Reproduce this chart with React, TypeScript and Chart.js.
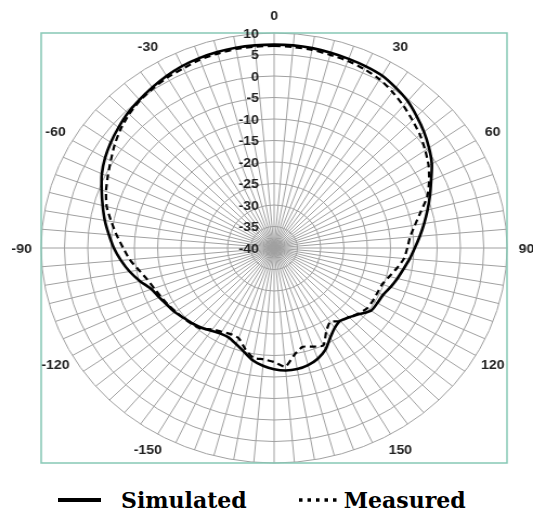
import React, { useEffect, useRef } from "react";
import { Chart, registerables } from "chart.js";

Chart.register(...registerables);

// Categories: azimuth angle in degrees (clockwise from top)
const ANGLES = [
  0, 5, 10, 15, 20, 25, 30, 35, 40, 45, 50, 55,
  60, 65, 70, 75, 80, 85, 90, 95, 100, 105, 110, 115,
  120, 125, 130, 135, 140, 145, 150, 155, 160, 165, 170, 175,
  180, 185, 190, 195, 200, 205, 210, 215, 220, 225, 230, 235,
  240, 245, 250, 255, 260, 265, 270, 275, 280, 285, 290, 295,
  300, 305, 310, 315, 320, 325, 330, 335, 340, 345, 350, 355,
];

// Angle labels shown around the plot
const ANGLE_TICK_LABELS = [0, 30, 60, 90, 120, 150, -150, -120, -90, -60, -30];

// Radial tick labels (dB)
const RADIAL_TICKS = [10, 5, 0, -5, -10, -15, -20, -25, -30, -35, -40];

const SERIES_NAMES = ["Simulated", "Measured"];

// Simulated gain (dB) at each angle in ANGLES
const SIMULATED = [
  7.3, 7.3, 7.2, 7.0, 6.8, 6.6, 6.3, 5.5, 4.6, 3.3, 2.0, 0.6,
  -0.9, -2.8, -4.4, -5.9, -7.3, -8.6, -9.8, -10.8, -11.8, -12.6, -13.4, -14.2,
  -14.4, -14.6, -16.1, -17.2, -17.9, -17.3, -15.9, -13.9, -12.6, -11.8, -11.4, -11.4,
  -11.8, -12.5, -13.5, -15.0, -16.2, -17.0, -17.0, -16.5, -15.8, -15.2, -14.7, -14.0,
  -13.5, -12.8, -12.0, -10.2, -8.5, -7.0, -5.6, -4.4, -3.1, -1.9, -0.6, 0.8,
  1.9, 2.8, 3.6, 4.4, 5.0, 5.6, 6.2, 6.7, 7.0, 7.2, 7.3, 7.3,
];

// Measured gain (dB) at each angle in ANGLES
const MEASURED = [
  7.0, 6.9, 6.8, 6.5, 6.3, 5.9, 5.3, 4.3, 3.2, 2.0, 0.9, -0.4,
  -1.7, -3.3, -5.0, -7.4, -9.3, -10.7, -11.4, -12.0, -13.2, -14.4, -15.3, -15.5,
  -15.5, -15.6, -16.3, -17.3, -17.8, -19.0, -17.6, -15.0, -15.6, -16.2, -14.8, -12.3,
  -13.5, -14.0, -14.1, -15.8, -17.7, -17.9, -17.5, -16.9, -15.5, -15.0, -14.6, -14.2,
  -13.7, -13.2, -12.6, -11.8, -10.5, -8.9, -7.6, -6.1, -4.5, -2.8, -1.6, -0.6,
  0.5, 1.8, 3.0, 4.0, 4.8, 5.3, 5.8, 6.1, 6.6, 6.8, 7.0, 7.0,
];

const CANVAS_W = 492;
const CANVAS_H = 470;
const CSS_W = 533;

const polarDecor = {
  id: "polarDecor",
  beforeDatasetsDraw(chart: any) {
    const scale = chart.scales.r;
    const ctx = chart.ctx;
    const cx = scale.xCenter;
    const cy = scale.yCenter;
    const R = scale.drawingArea;
    ctx.save();
    ctx.strokeStyle = "#86c8b5";
    ctx.lineWidth = 1.5;
    ctx.strokeRect(cx - R, cy - R, 2 * R, 2 * R);
    ctx.restore();
  },
  afterDraw(chart: any) {
    const scale = chart.scales.r;
    const ctx = chart.ctx;
    const cx = scale.xCenter;
    const cy = scale.yCenter;
    const R = scale.drawingArea;
    ctx.save();
    ctx.font = "bold 13px 'Liberation Sans', Arial, sans-serif";
    ctx.fillStyle = "#222222";
    ctx.textAlign = "right";
    ctx.textBaseline = "middle";
    RADIAL_TICKS.forEach((v) => {
      const d = scale.getDistanceFromCenterForValue(v);
      ctx.fillText(String(v), cx - 14, cy - d + 1);
    });
    ctx.textAlign = "center";
    ANGLE_TICK_LABELS.forEach((a) => {
      const idx = ANGLES.indexOf((a + 360) % 360);
      const p = scale.getPointPosition(idx, R + 18);
      ctx.fillText(String(a), p.x, p.y + 1);
    });
    ctx.restore();
  },
};

export default function App() {
  const canvasRef = useRef<HTMLCanvasElement | null>(null);

  useEffect(() => {
    const canvas = canvasRef.current;
    if (!canvas) return;
    const chart = new Chart(canvas, {
      type: "radar",
      data: {
        labels: ANGLES.map(String),
        datasets: [
          {
            label: SERIES_NAMES[0],
            data: SIMULATED,
            borderColor: "#000000",
            backgroundColor: "transparent",
            borderWidth: 2.6,
            pointRadius: 0,
            fill: false,
            tension: 0.25,
          },
          {
            label: SERIES_NAMES[1],
            data: MEASURED,
            borderColor: "#000000",
            backgroundColor: "transparent",
            borderWidth: 2.2,
            borderDash: [6, 4],
            pointRadius: 0,
            fill: false,
            tension: 0.2,
          },
        ],
      },
      options: {
        responsive: false,
        animation: false,
        layout: { padding: { left: 15, right: 0, top: 33, bottom: 7 } },
        plugins: {
          legend: { display: false },
          tooltip: { enabled: false },
        },
        scales: {
          r: {
            min: -40,
            max: 10,
            ticks: { display: false, stepSize: 5 },
            pointLabels: { display: false },
            grid: { color: "#a0a0a0", lineWidth: 1, circular: true },
            angleLines: { color: "#a0a0a0", lineWidth: 1 },
          },
        },
      } as any,
      plugins: [polarDecor],
    });
    return () => chart.destroy();
  }, []);

  const textStyle: React.CSSProperties = {
    fontFamily: "'DejaVu Serif', serif",
    fontWeight: "bold",
    fontSize: 22,
    lineHeight: "24px",
    color: "#000",
    whiteSpace: "nowrap",
  };

  return (
    <div
      style={{
        position: "absolute",
        left: 0,
        top: 0,
        width: 533,
        height: 510,
        background: "#fff",
        overflow: "hidden",
      }}
    >
      <canvas
        ref={canvasRef}
        width={CANVAS_W}
        height={CANVAS_H}
        style={{ width: CSS_W, height: CANVAS_H, display: "block" }}
      />
      <div
        style={{
          position: "absolute",
          left: 58,
          top: 488,
          height: 24,
          display: "flex",
          alignItems: "center",
        }}
      >
        <svg width={43} height={6} style={{ display: "block" }}>
          <line x1={0} y1={3} x2={43} y2={3} stroke="#000" strokeWidth={4} />
        </svg>
        <span style={{ ...textStyle, marginLeft: 20 }}>{SERIES_NAMES[0]}</span>
        <svg width={43} height={6} style={{ display: "block", marginLeft: 50 }}>
          <line
            x1={2}
            y1={3}
            x2={43}
            y2={3}
            stroke="#000"
            strokeWidth={3.5}
            strokeDasharray="3.5 5"
          />
        </svg>
        <span style={{ ...textStyle, marginLeft: 4 }}>{SERIES_NAMES[1]}</span>
      </div>
    </div>
  );
}
